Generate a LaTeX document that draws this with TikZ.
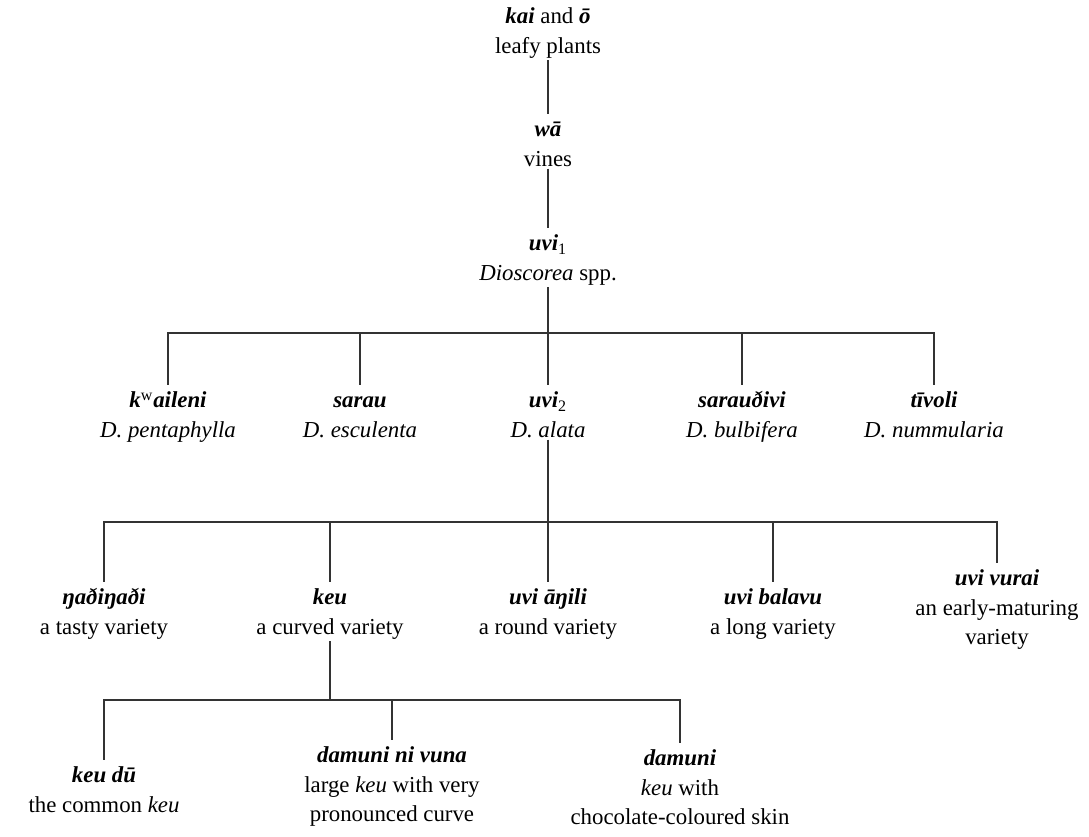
\documentclass[tikz,border=0pt]{standalone}
\usepackage{fontspec}
\setmainfont{Liberation Serif}
\usepackage{tikz}

\newcommand{\tname}[1]{\strut\textbf{\textit{#1}}}

\begin{document}
\begin{tikzpicture}[
    taxon/.style={align=center, anchor=north, inner sep=1pt,
      font=\fontsize{13}{16.8}\selectfont},
    branch/.style={line width=0.6pt, black!80}]
    \useasboundingbox (0,0) rectangle (21.78,-16.74);

    % Life form and genus
    \node[taxon] (kai) at (10.96,-0.02) {\tname{kai} and \tname{ō}\\leafy plants};
    \node[taxon] (wa) at (10.96,-2.28) {\tname{wā}\\vines};
    \node[taxon] (uvione) at (10.96,-4.56) {\tname{uvi}\textsubscript{1}\\\textit{Dioscorea} spp.};
    \draw[branch] (kai) -- (wa);
    \draw[branch] (wa) -- (uvione);

    % Species
    \coordinate (bar1) at (10.96,-6.66);
    \node[taxon] (kwaileni) at (3.36,-7.70) {\tname{k\textsuperscript{\normalfont w}aileni}\\\textit{D. pentaphylla}};
    \node[taxon] (sarau) at (7.20,-7.70) {\tname{sarau}\\\textit{D. esculenta}};
    \node[taxon] (uvitwo) at (10.96,-7.70) {\tname{uvi}\textsubscript{2}\\\textit{D. alata}};
    \node[taxon] (sarauthivi) at (14.84,-7.70) {\tname{sarauðivi}\\\textit{D. bulbifera}};
    \node[taxon] (tivoli) at (18.68,-7.70) {\tname{tīvoli}\\\textit{D. nummularia}};
    \draw[branch] (uvione) -- (bar1);
    \foreach \n in {kwaileni,sarau,uvitwo,sarauthivi,tivoli}
        \draw[branch] (bar1) -| (\n.north);

    % Varieties of uvi_2
    \coordinate (bar2) at (10.96,-10.44);
    \node[taxon] (ngadi) at (2.08,-11.64) {\tname{ŋaðiŋaði}\\a tasty variety};
    \node[taxon] (keu) at (6.60,-11.64) {\tname{keu}\\a curved variety};
    \node[taxon] (angili) at (10.96,-11.64) {\tname{uvi āŋili}\\a round variety};
    \node[taxon] (balavu) at (15.46,-11.64) {\tname{uvi balavu}\\a long variety};
    \node[taxon] (vurai) at (19.94,-11.26) {\tname{uvi vurai}\\an early-maturing\\variety};
    \draw[branch] (uvitwo) -- (bar2);
    \foreach \n in {ngadi,keu,angili,balavu,vurai}
        \draw[branch] (bar2) -| (\n.north);

    % Kinds of keu
    \coordinate (bar3) at (6.60,-14.00);
    \node[taxon] (keudu) at (2.08,-15.20) {\tname{keu dū}\\the common \textit{keu}};
    \node[taxon] (vuna) at (7.84,-14.80) {\tname{damuni ni vuna}\\large \textit{keu} with very\\pronounced curve};
    \node[taxon] (damuni) at (13.60,-14.86) {\tname{damuni}\\\textit{keu} with\\chocolate-coloured skin};
    \draw[branch] (keu) -- (bar3);
    \foreach \n in {keudu,vuna,damuni}
        \draw[branch] (bar3) -| (\n.north);
\end{tikzpicture}
\end{document}
